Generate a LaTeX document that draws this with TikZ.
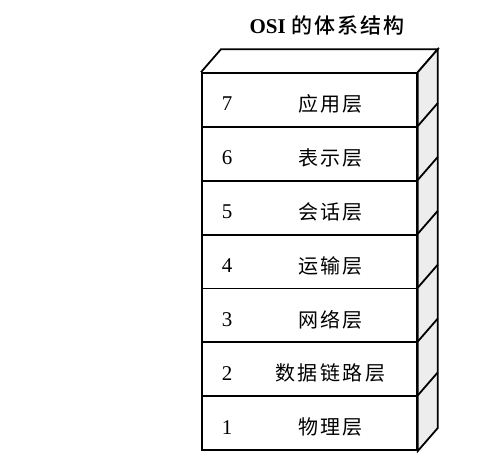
\documentclass[tikz,border=0pt]{standalone}
\usepackage{fontspec}
\setmainfont{Liberation Serif}
\newfontfamily\cjk[LetterSpace=12]{Noto Sans CJK SC}
\newfontfamily\cjktitle[LetterSpace=10]{Noto Sans CJK SC Medium}
\usetikzlibrary{calc}
\tikzset{
  layerbox/.style={draw, line width=1.8pt, minimum width=215pt, minimum height=53.86pt, inner sep=0pt, anchor=south west},
  numtext/.style={font=\fontsize{21}{21}\selectfont, inner sep=0pt},
  nametext/.style={font=\fontsize{20}{20}\selectfont\cjk, inner sep=0pt},
  faceline/.style={line width=1.8pt, line join=miter},
  sideface/.style={faceline, fill=black!7},
}
\begin{document}
\begin{tikzpicture}[x=1pt,y=-1pt]
\useasboundingbox (0,0) rectangle (490,462);
\node[font=\fontsize{21}{21}\selectfont, inner sep=0pt] (title) at (327,26) {\textbf{OSI} {\cjktitle 的体系结构}};
\foreach \i/\t in {1/物理层,2/数据链路层,3/网络层,4/运输层,5/会话层,6/表示层,7/应用层}{
  \node[layerbox] (l\i) at (201,{451-(\i-1)*53.857}) {};
  \node[numtext] (n\i) at ([xshift=26pt,yshift=-4pt]l\i.west) {\i};
  \node[nametext] (t\i) at ([xshift=21pt,yshift=-4pt]l\i.center) {\t};
}
% top face
\draw[faceline] (l7.north west) -- ++(20,-23) coordinate (tl) -- ($(l7.north east)+(20,-23)$) coordinate (tr) -- (l7.north east);
% side face
\draw[sideface] (l7.north east) -- (tr) -- ($(l1.south east)+(20,-23)$) coordinate (br) -- (l1.south east) -- cycle;
\foreach \i in {1,...,6}{
  \draw[faceline] (l\i.north east) -- ++(20,-23);
}
\end{tikzpicture}
\end{document}
